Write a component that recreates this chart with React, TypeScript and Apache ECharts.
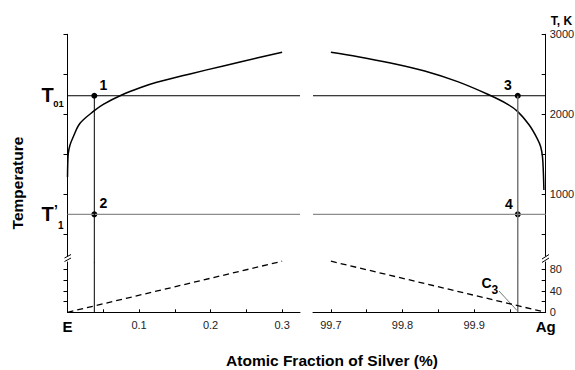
import React, { useEffect, useRef } from "react";
import * as echarts from "echarts";

// ---- data ----
const leftX = [0, 0.0003, 0.0011, 0.0035, 0.0081, 0.0175, 0.0375, 0.05, 0.0758, 0.1014, 0.1248, 0.1713, 0.2179, 0.2646, 0.3];
const leftT = [1216, 1366, 1512, 1616, 1720, 1888, 2045, 2125, 2241, 2332, 2400, 2505, 2605, 2703, 2775];
const rightX = [99.7, 99.738, 99.785, 99.831, 99.877, 99.919, 99.947, 99.961, 99.977, 99.988, 99.993, 99.9955, 99.9967, 99.9975];
const rightT = [2775, 2720, 2638, 2541, 2408, 2250, 2125, 2033, 1866, 1700, 1595, 1470, 1283, 1054];
const T01 = 2232;
const T1p = 750;
const pointXLeft = 0.0375;
const pointXRight = 99.961;
const dashLeftX = [0, 0.3];
const dashLeftT = [0, 95];
const dashRightX = [99.7, 100];
const dashRightT = [95, 0];
const upperTicks = [500, 1000, 1500, 2000, 2500, 3000];
const upperLabels = [1000, 2000, 3000];
const lowerTicksLeft = [20, 40, 60, 80];
const lowerTicksRight = [0, 20, 40, 60, 80];
const lowerLabels = [0, 40, 80];
const leftXTicks = [0.05, 0.1, 0.15, 0.2, 0.25, 0.3];
const leftXLabels = [0, 0.1, 0.2, 0.3];
const rightXTicks = [99.7, 99.75, 99.8, 99.85, 99.9, 99.95, 100];
const rightXLabels = [99.7, 99.8, 99.9, 100];

// ---- layout ----
const FONT = "'Liberation Sans', Arial, Helvetica, sans-serif";
const LX0 = 67.5, LW = 232.5, RX0 = 313, RW = 232.7;
const TOP = 34.3, BRK_U = 256, BRK_L = 262, BOTTOM = 312.3;
const UP_PX = 0.08, LOW_PX = 0.5375;
const upperH = BRK_U - TOP;
const lowerH = BOTTOM - BRK_L;
const upperMax = 3000;
const upperMin = upperMax - upperH / UP_PX;
const lowerMax = lowerH / LOW_PX;
const leftMin = 0, leftMax = 0.325;
const rightMin = 99.675, rightMax = 100;

const zip = (xs: number[], ys: number[]) => xs.map((x, i) => [x, ys[i]]);

export default function App() {
  const ref = useRef<HTMLDivElement>(null);
  useEffect(() => {
    if (!ref.current) return;
    const chart = echarts.init(ref.current, undefined, { renderer: "svg" });
    const black = "#000";
    const labelStyle = { fontFamily: FONT, fontSize: 11, color: "#222" };
    const yBase = (gi: number, min: number, max: number, right: boolean, ticks: number[], labels: number[] | null) => ({
      type: "value",
      gridIndex: gi,
      min,
      max,
      position: right ? "right" : "left",
      axisLine: { show: true, onZero: false, lineStyle: { color: black, width: 1 } },
      axisTick: { show: true, inside: right, length: 4, customValues: ticks, lineStyle: { color: black, width: 1 } },
      axisLabel: labels
        ? { show: true, customValues: labels, margin: 4, formatter: (v: number) => String(Math.round(v)), ...labelStyle }
        : { show: false },
      splitLine: { show: false },
    });
    const xBase = (gi: number, min: number, max: number, ticks: number[], labels: number[], fmt: (v: number) => string) => ({
      type: "value",
      gridIndex: gi,
      min,
      max,
      axisLine: { show: true, onZero: false, lineStyle: { color: black, width: 1 } },
      axisTick: { show: true, inside: true, length: 3, customValues: ticks, lineStyle: { color: black, width: 1 } },
      axisLabel: {
        show: true,
        customValues: labels,
        margin: 7,
        formatter: fmt,
        ...labelStyle,
        rich: { b: { fontFamily: FONT, fontSize: 15, fontWeight: "bold", color: black } },
      },
      splitLine: { show: false },
    });
    const line = (xi: number, data: number[][], color: string, width: number, extra: any = {}) => ({
      type: "line",
      xAxisIndex: xi,
      yAxisIndex: xi,
      data,
      showSymbol: false,
      symbol: "none",
      silent: true,
      clip: false,
      lineStyle: { color, width, ...(extra.lineStyle || {}) },
      ...(extra.smooth ? { smooth: extra.smooth } : {}),
    });
    const ptLabel = (txt: string, off: number[]) => ({
      show: true,
      position: "inside",
      formatter: txt,
      offset: off,
      fontFamily: FONT,
      fontSize: 14,
      fontWeight: "bold",
      color: black,
      textBorderWidth: 0,
    });
    const gridBase = { outerBoundsMode: "none", containLabel: false };
    const option: any = {
      animation: false,
      backgroundColor: "#fff",
      grid: [
        { ...gridBase, left: LX0, top: TOP, width: LW, height: upperH },
        { ...gridBase, left: RX0, top: TOP, width: RW, height: upperH },
        { ...gridBase, left: LX0, top: BRK_L, width: LW, height: lowerH },
        { ...gridBase, left: RX0, top: BRK_L, width: RW, height: lowerH },
      ],
      xAxis: [
        { type: "value", gridIndex: 0, min: leftMin, max: leftMax, show: false },
        { type: "value", gridIndex: 1, min: rightMin, max: rightMax, show: false },
        xBase(2, leftMin, leftMax, leftXTicks, leftXLabels, (v: number) => (v === 0 ? "{b|E}" : v.toFixed(1))),
        xBase(3, rightMin, rightMax, rightXTicks, rightXLabels, (v: number) => (v >= 99.999 ? "{b|Ag}" : v.toFixed(1))),
      ],
      yAxis: [
        yBase(0, upperMin, upperMax, false, upperTicks, null),
        yBase(1, upperMin, upperMax, true, upperTicks, upperLabels),
        yBase(2, 0, lowerMax, false, lowerTicksLeft, null),
        yBase(3, 0, lowerMax, true, lowerTicksRight, lowerLabels),
      ],
      series: [
        line(0, zip(leftX, leftT), black, 1.5, { smooth: 0.35 }),
        line(1, zip(rightX, rightT), black, 1.5, { smooth: 0.35 }),
        line(0, [[leftMin, T01], [leftMax, T01]], black, 1),
        line(1, [[rightMin, T01], [rightMax, T01]], black, 1),
        line(0, [[leftMin, T1p], [leftMax, T1p]], "#8c8c8c", 1.2),
        line(1, [[rightMin, T1p], [rightMax, T1p]], "#8c8c8c", 1.2),
        line(0, [[pointXLeft, T01], [pointXLeft, 150]], black, 1),
        line(2, [[pointXLeft, lowerMax], [pointXLeft, 0]], black, 1),
        line(1, [[pointXRight, T01], [pointXRight, 150]], "#707070", 1.4),
        line(3, [[pointXRight, lowerMax], [pointXRight, 0]], "#707070", 1.4),
        line(2, zip(dashLeftX, dashLeftT), black, 1.3, { lineStyle: { type: [6, 4] } }),
        line(3, zip(dashRightX, dashRightT), black, 1.3, { lineStyle: { type: [6, 4] } }),
        {
          type: "scatter",
          xAxisIndex: 0,
          yAxisIndex: 0,
          symbolSize: 6,
          itemStyle: { color: black, opacity: 1 },
          silent: true,
          data: [
            { value: [pointXLeft, T01], label: ptLabel("1", [9, -11]) },
            { value: [pointXLeft, T1p], label: ptLabel("2", [9, -11]) },
          ],
        },
        {
          type: "scatter",
          xAxisIndex: 1,
          yAxisIndex: 1,
          symbolSize: 6,
          itemStyle: { color: black, opacity: 1 },
          silent: true,
          data: [
            { value: [pointXRight, T01], label: ptLabel("3", [-10, -10.5]) },
            { value: [pointXRight, T1p], label: ptLabel("4", [-9, -10]) },
          ],
        },
      ],
      graphic: [
        {
          type: "text",
          x: 17.5,
          y: 183,
          rotation: Math.PI / 2,
          style: { text: "Temperature", font: `bold 15.5px ${FONT}`, fill: black, align: "center", verticalAlign: "middle" },
        },
        {
          type: "text",
          x: 332,
          y: 360,
          style: { text: "Atomic Fraction of Silver (%)", font: `bold 15.5px ${FONT}`, fill: black, align: "center", verticalAlign: "middle" },
        },
        {
          type: "text",
          x: 561.5,
          y: 21,
          style: { text: "T, K", font: `bold 12px ${FONT}`, fill: black, align: "center", verticalAlign: "middle" },
        },
        { type: "text", x: 41.5, y: 94.5, style: { text: "T", font: `bold 20px ${FONT}`, fill: black, align: "left", verticalAlign: "middle" } },
        { type: "text", x: 53.3, y: 103.5, style: { text: "01", font: `bold 9.5px ${FONT}`, fill: black, align: "left", verticalAlign: "middle" } },
        { type: "text", x: 41.5, y: 213.5, style: { text: "T", font: `bold 20px ${FONT}`, fill: black, align: "left", verticalAlign: "middle" } },
        { type: "text", x: 54, y: 210, style: { text: "’", font: `bold 14px ${FONT}`, fill: black, align: "left", verticalAlign: "middle" } },
        { type: "text", x: 58, y: 225, style: { text: "1", font: `bold 10px ${FONT}`, fill: black, align: "left", verticalAlign: "middle" } },
        { type: "text", x: 481.5, y: 282.5, style: { text: "C", font: `bold 14px ${FONT}`, fill: black, align: "left", verticalAlign: "middle" } },
        { type: "text", x: 491.5, y: 290, style: { text: "3", font: `bold 12px ${FONT}`, fill: black, align: "left", verticalAlign: "middle" } },
        { type: "line", shape: { x1: 499, y1: 291, x2: 517, y2: 310.5 }, style: { stroke: "#555", lineWidth: 0.8 } },
        { type: "line", shape: { x1: 64.5, y1: 258, x2: 71, y2: 254.5 }, style: { stroke: black, lineWidth: 1 } },
        { type: "line", shape: { x1: 64.5, y1: 261.5, x2: 71, y2: 258 }, style: { stroke: black, lineWidth: 1 } },
        { type: "line", shape: { x1: 542, y1: 259, x2: 549, y2: 254.5 }, style: { stroke: black, lineWidth: 1 } },
        { type: "line", shape: { x1: 542, y1: 262.5, x2: 549, y2: 258 }, style: { stroke: black, lineWidth: 1 } },
      ],
    };
    chart.setOption(option);
    return () => chart.dispose();
  }, []);
  return (
    <div
      ref={ref}
      style={{ position: "fixed", left: 0, top: 0, width: 575, height: 370, background: "#fff" }}
    />
  );
}
